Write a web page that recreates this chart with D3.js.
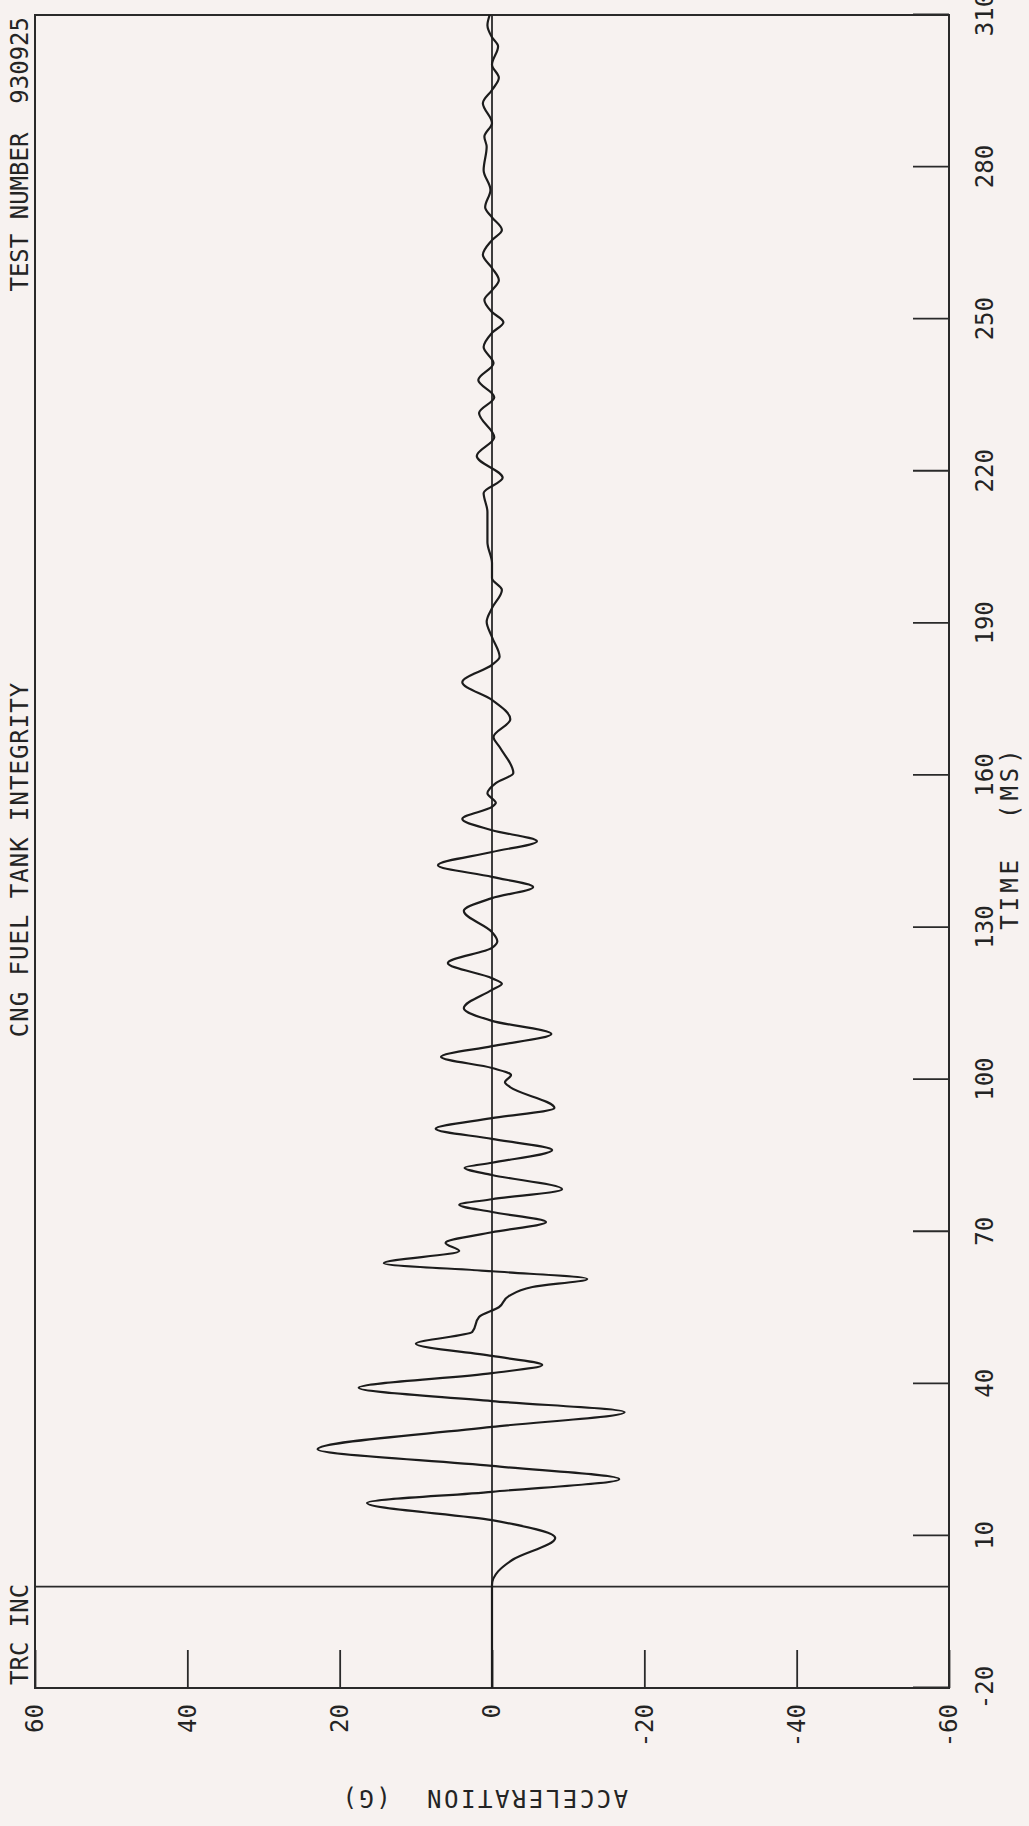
<!DOCTYPE html>
<html lang="en">

<head>
    <script src='https://d3js.org/d3.v7.min.js'></script>
</head>

<body style="margin:0;background:#f7f2f0">

    <style>
        svg text {
            fill: #242424;
            font: 24px "DejaVu Sans Mono", monospace;
        }
    </style>

    <script>
        // time (ms) and acceleration (G)
        let timeMs = [-20, -10, -2, 0.3, 3, 5.2, 9.6, 13.1, 16.5, 18.7, 21.2, 23.8, 27.1, 31.5, 34.4, 36.6, 39.2, 42.1, 43.7, 45.5,
            47.9, 50.2, 53.2, 55.1, 57.3, 59.1, 60.7, 62.2, 63.8, 66.2, 67.8, 69.9, 71.9, 73.9, 75.3, 76.4, 78.4, 81.2, 82.6, 83.6,
            86.1, 88.3, 90.3, 92.4, 94.4, 98.5, 99.5, 100.9, 102.3, 104.5, 106.6, 109, 111.6, 114.1, 117.7, 118.9, 120, 123, 126, 127.3,
            129.1, 133.3, 135.8, 138, 140, 142.3, 144.9, 147, 149.2, 151.4, 153.8, 154.6, 156.5, 158.5, 160.5, 165.6, 167.6, 171.1, 174.9, 178.4,
            181.8, 183.4, 187.3, 190.3, 193, 196.6, 198.9, 201.9, 206, 212, 215.7, 218.7, 223, 226.7, 231.5, 234.6, 238, 241.3, 244.5, 247.3,
            249.4, 251.4, 253.8, 255.7, 257.7, 260.1, 262.7, 265.6, 267.6, 270.1, 272.1, 275.5, 279.4, 284, 286, 288.7, 292.6, 295.2, 297.6, 300.2,
            303.8, 305.6, 308, 310];
        let accelG = [0, 0, 0, 0, -0.8, -2.6, -8.3, 0, 16.4, 0, -16.7, 0, 22.9, 0, -17.4, 0, 17.5, 0, -6.6, 0,
            10.0, 2.6, 1.7, -0.9, -2.2, -5.3, -12.5, 0, 14.2, 4.3, 6.1, 0, -7.1, 0, 4.3, 0, -9.2, 0, 3.6, 0,
            -7.9, 0, 7.4, 0, -8.2, -2.4, -1.7, -2.5, 0, 6.7, 0, -7.8, 0, 3.7, 0, -1.3, 0, 5.8, 0, -0.7,
            0, 3.7, 0, -5.4, 0, 7.1, 0, -5.9, 0, 3.9, 0, -0.5, 0.6, -0.5, -2.8, -1.0, -0.2, -2.4, 0, 3.9,
            0, -1.0, 0, 0.7, 0, -1.3, 0, 0, 0.6, 0.6, 1.1, -1.4, 2.0, -0.3, 1.7, -0.3, 1.8, -0.2, 1.1, 0,
            -1.5, 0, 1.0, 0, -0.9, 0, 1.2, 0, -1.3, 0, 0.9, 0.2, 1.1, 0.7, 1.0, 0, 1.2, 0, -0.9, 0,
            -0.8, 0, 0.6, 0.3];

        let timeTicks = [-20, 10, 40, 70, 100, 130, 160, 190, 220, 250, 280, 310];
        let accTicks = [60, 40, 20, 0, -20, -40, -60];

        var data = timeMs.map(function(t, i) {
            return { t: t, a: accelG[i] };
        });

        var left = 35, bottom = 1688;
        var W = 1673, H = 914;

        var svg = d3.select("body")
            .append("svg")
            .attr("width", 1029)
            .attr("height", 1826);

        svg.append("rect")
            .attr("width", 1029)
            .attr("height", 1826)
            .attr("fill", "#f7f2f0");

        // the plot is drawn landscape and turned a quarter to the left
        var g = svg.append("g")
            .attr("transform", "translate(" + left + "," + bottom + ") rotate(-90)");

        var x = d3.scaleLinear().domain([-20, 310]).range([0, W]);
        var y = d3.scaleLinear().domain([-60, 60]).range([H, 0]);

        g.append("g")
            .attr("transform", "translate(0," + H + ")")
            .call(d3.axisBottom(x).tickValues(timeTicks).tickSizeInner(-36).tickSizeOuter(0).tickPadding(27)
                .tickFormat(function(d) { return String(d); }));

        g.append("g")
            .call(d3.axisLeft(y).tickValues(accTicks).tickSizeInner(-38).tickSizeOuter(0).tickPadding(16)
                .tickFormat(function(d) { return String(d); }));

        g.selectAll(".domain").remove();
        g.selectAll(".tick line").attr("stroke", "#2a2a2a").attr("stroke-width", 1.8);
        g.selectAll(".tick text").attr("fill", "#242424").style("font-size", "24px");

        // frame
        g.append("rect")
            .attr("x", x(-20))
            .attr("y", y(60))
            .attr("width", x(310) - x(-20))
            .attr("height", y(-60) - y(60))
            .attr("fill", "none")
            .attr("stroke", "#2a2a2a")
            .attr("stroke-width", 2);

        // zero lines
        g.append("line")
            .attr("x1", x(-20)).attr("x2", x(310))
            .attr("y1", y(0)).attr("y2", y(0))
            .attr("stroke", "#2a2a2a").attr("stroke-width", 1.8);

        g.append("line")
            .attr("x1", x(0)).attr("x2", x(0))
            .attr("y1", y(60)).attr("y2", y(-60))
            .attr("stroke", "#2a2a2a").attr("stroke-width", 1.8);

        var line = d3.line()
            .x(function(d) { return x(d.t); })
            .y(function(d) { return y(d.a); })
            .curve(d3.curveMonotoneX);

        g.append("path")
            .datum(data)
            .attr("d", line)
            .attr("fill", "none")
            .attr("stroke", "#1c1c1c")
            .attr("stroke-width", 2.2);

        // texts
        g.append("text")
            .attr("x", 3)
            .attr("y", -7)
            .text("TRC INC");

        g.append("text")
            .attr("x", W / 2 - 8)
            .attr("y", -7)
            .attr("text-anchor", "middle")
            .style("letter-spacing", "1px")
            .text("CNG FUEL TANK INTEGRITY");

        g.append("text")
            .attr("x", W - 2)
            .attr("y", -7)
            .attr("text-anchor", "end")
            .style("white-space", "pre")
            .text("TEST NUMBER  930925");

        g.append("text")
            .attr("x", W / 2 + 14)
            .attr("y", H + 69)
            .attr("text-anchor", "middle")
            .style("white-space", "pre")
            .style("letter-spacing", "4px")
            .text("TIME  (MS)");

        g.append("text")
            .attr("transform", "translate(-102," + (H / 2 - 8) + ") rotate(-90)")
            .attr("text-anchor", "middle")
            .style("white-space", "pre")
            .style("letter-spacing", "2.5px")
            .text("ACCELERATION  (G)");
    </script>
</body>

</html>
